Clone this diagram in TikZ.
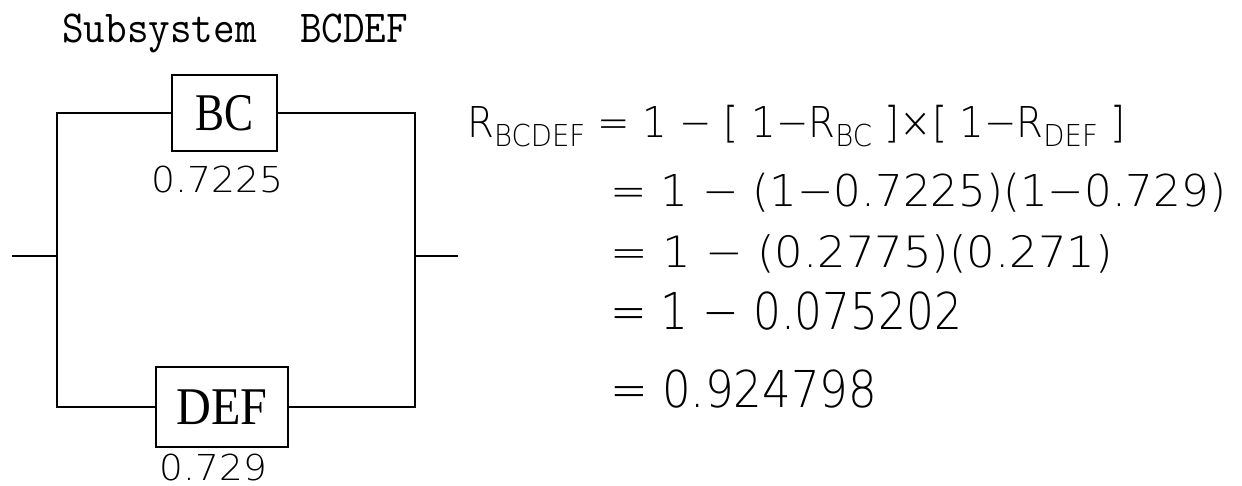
\documentclass[tikz,border=0pt]{standalone}
\usepackage{fontspec}
\usepackage{graphicx}
\newfontfamily\eqfont{DejaVu Sans ExtraLight}
\newfontfamily\boxfont{Liberation Serif}
\newcommand\fsz[1]{\fontsize{#1}{#1}\selectfont}
% lowered, smaller index letters of R
\newcommand\lowsub[1]{\raisebox{-9pt}{\fsz{30.2}#1}}
% stretch a line horizontally to a given width, keeping its height
\newcommand\fitw[2]{\resizebox{#1}{\height}{#2}}

\begin{document}
\begin{tikzpicture}[x=1pt,y=-1pt,
  blk/.style={draw, line width=2pt, rectangle, inner sep=0pt, font=\boxfont\fsz{53}},
  wire/.style={line width=2pt},
  txt/.style={inner sep=0pt, anchor=base west},
  val/.style={inner sep=0pt, anchor=base, font=\eqfont\fsz{35.7}}]
\useasboundingbox (0,0) rectangle (1242,486);

% title
\node[inner sep=0pt, anchor=base west, font=\ttfamily\fsz{45.8}] (title) at (62,43)
  {\fitw{346pt}{Subsystem\ \ BCDEF}};

% the two parallel blocks
\node[blk, minimum width=105pt, minimum height=76pt] (bc) at (224.5,113) {\fitw{58pt}{BC}};
\node[blk, minimum width=132pt, minimum height=80pt] (def) at (222,407) {\fitw{91pt}{DEF}};

\node[val] (bcval) at (218,193) {\fitw{132pt}{0.7225}};
\node[val] (defval) at (213.5,480) {\fitw{107pt}{0.729}};

% wiring
\coordinate (jl) at (57,256);
\coordinate (jr) at (415,256);
\coordinate (in) at (12,256);
\coordinate (out) at (458,256);
\draw[wire] (in) -- (jl);
\draw[wire] (jr) -- (out);
\draw[wire] (bc.west) -| (jl) |- (def.west);
\draw[wire] (bc.east) -| (jr) |- (def.east);

% reliability calculation
\node[txt, font=\eqfont\fsz{42.5}] (eq1) at (467,138)
  {\fitw{658pt}{R\lowsub{BCDEF} = 1 − [ 1−R\lowsub{BC} ]×[ 1−R\lowsub{DEF} ]}};
\node[txt, font=\eqfont\fsz{43.9}] (eq2) at (610,207)
  {\fitw{616pt}{= 1 − (1−0.7225)(1−0.729)}};
\node[txt, font=\eqfont\fsz{43.2}] (eq3) at (610,268)
  {\fitw{503pt}{= 1 − (0.2775)(0.271)}};
\node[txt, font=\eqfont\fsz{50.8}] (eq4) at (610,330)
  {\fitw{352pt}{= 1 − 0.075202}};
\node[txt, font=\eqfont\fsz{50.8}] (eq5) at (610,407)
  {\fitw{267pt}{= 0.924798}};
\end{tikzpicture}
\end{document}
